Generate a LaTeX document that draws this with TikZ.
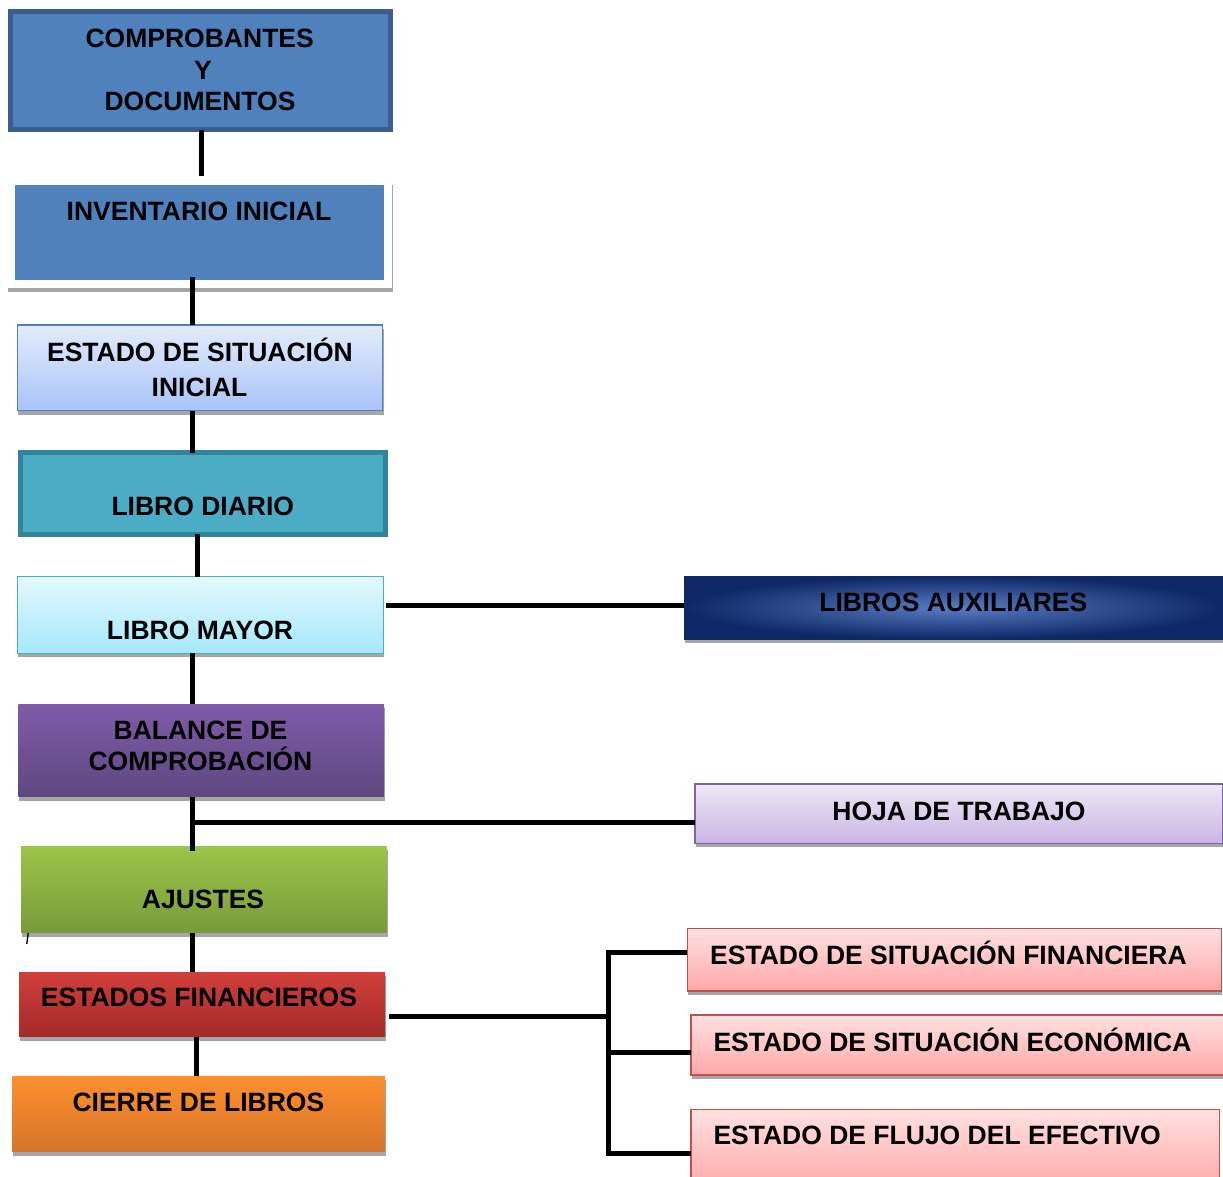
\documentclass[tikz,border=0pt]{standalone}
\usepackage{fontspec}
\setmainfont{Liberation Sans}
\definecolor{cblue}{HTML}{4F81BD}
\definecolor{cblueb}{HTML}{3B5E8F}
\definecolor{cesit}{HTML}{E3ECFD}
\definecolor{cesib}{HTML}{A9C4F9}
\definecolor{cteal}{HTML}{4BACC6}
\definecolor{ctealb}{HTML}{31849B}
\definecolor{cmayt}{HTML}{E3F8FE}
\definecolor{cmayb}{HTML}{A5E8FB}
\definecolor{cauxin}{HTML}{5A7CC4}
\definecolor{cauxout}{HTML}{0E2866}
\definecolor{cpurt}{HTML}{7F5BA8}
\definecolor{cpurb}{HTML}{5E4880}
\definecolor{chojt}{HTML}{EEE8F6}
\definecolor{chojb}{HTML}{C9B6E3}
\definecolor{chojd}{HTML}{8064A2}
\definecolor{cgrt}{HTML}{9CC54A}
\definecolor{cgrb}{HTML}{789B3A}
\definecolor{credt}{HTML}{D03F3B}
\definecolor{credb}{HTML}{A32A2A}
\definecolor{coret}{HTML}{FE8F2E}
\definecolor{coreb}{HTML}{D6752A}
\definecolor{cpkt}{HTML}{FFE1E1}
\definecolor{cpkb}{HTML}{FFA8A8}
\definecolor{cpkd}{HTML}{C0504D}
\definecolor{cshadow}{HTML}{A6A6A6}
\tikzset{
  box/.style={rectangle, inner sep=0pt, outer sep=0pt, anchor=north west},
  shad/.style={preaction={fill=cshadow, transform canvas={xshift=1pt,yshift=-4pt}}},
  txt/.style={font=\fontsize{26.5}{31}\selectfont\bfseries, inner sep=0pt, anchor=base},
  txtl/.style={txt, anchor=base west},
  conn/.style={draw=black, line width=5pt, line join=miter}
}
\begin{document}
\begin{tikzpicture}[x=1pt,y=-1pt]
\useasboundingbox (0,0) rectangle (1223,1177);
% ---- left column boxes
\node[box, fill=cblue, draw=cblueb, line width=5pt, minimum width=379.5pt, minimum height=118pt] (comp) at (10.5,12) {};
\node[box, fill=white, shad, minimum width=385pt, minimum height=106.5pt] (invf) at (7,181.5) {};
\node[box, fill=cblue, minimum width=369.3pt, minimum height=95pt] (inv) at (15,185) {};
\node[box, shad, top color=cesit, bottom color=cesib, draw=cblue, line width=1.2pt, minimum width=365.4pt, minimum height=85.7pt] (esi) at (17.3,325) {};
\node[box, fill=cteal, draw=ctealb, line width=5pt, minimum width=364.4pt, minimum height=81.7pt] (diario) at (20.8,452.5) {};
\node[box, shad, top color=cmayt, bottom color=cmayb, draw=cteal, line width=1.2pt, minimum width=366pt, minimum height=76.6pt] (mayor) at (17.3,576.7) {};
\node[box, shad, top color=cpurt, bottom color=cpurb, minimum width=365.7pt, minimum height=92.7pt] (balance) at (18.3,704) {};
\node[box, shad, top color=cgrt, bottom color=cgrb, minimum width=365.7pt, minimum height=86.7pt] (ajustes) at (21,846) {};
\node[box, shad, top color=credt, bottom color=credb, minimum width=366pt, minimum height=64.7pt] (ef) at (19,972) {};
\node[box, shad, top color=coret, bottom color=coreb, minimum width=373pt, minimum height=75.7pt] (cierre) at (12,1076) {};
% ---- right column boxes
\node[box, shad, inner color=cauxin, outer color=cauxout, minimum width=540pt, minimum height=63pt] (aux) at (684,576) {};
\node[box, shad, top color=chojt, bottom color=chojb, draw=chojd, line width=1.2pt, minimum width=527.3pt, minimum height=59.3pt] (hoja) at (695,784) {};
\node[box, shad, top color=cpkt, bottom color=cpkb, draw=cpkd, line width=1.2pt, minimum width=534pt, minimum height=62.7pt] (esf) at (687.3,928.3) {};
\node[box, shad, top color=cpkt, bottom color=cpkb, draw=cpkd, line width=1.2pt, minimum width=534pt, minimum height=60pt] (ese) at (691,1015) {};
\node[box, top color=cpkt, bottom color=cpkb, draw=cpkd, line width=1.2pt, minimum width=528.7pt, minimum height=80pt] (efe) at (691,1109.3) {};
% ---- texts
\node[txt] (tcomp1) at (199.7,47.3) {COMPROBANTES};
\node[txt] (tcomp2) at (203,79.5) {Y};
\node[txt] (tcomp3) at (200,110.7) {DOCUMENTOS};
\node[txt] (tinv) at (199,220) {INVENTARIO INICIAL};
\node[txt] (tesi1) at (200,361) {ESTADO DE SITUACIÓN};
\node[txt] (tesi2) at (199.5,396.7) {INICIAL};
\node[txt] (tdiario) at (202.8,515) {LIBRO DIARIO};
\node[txt] (tmayor) at (200,639.3) {LIBRO MAYOR};
\node[txt] (tbal1) at (200.5,739.3) {BALANCE DE};
\node[txt] (tbal2) at (200.5,770.7) {COMPROBACIÓN};
\node[txt] (tajus) at (203,908.3) {AJUSTES};
\node[txt] (tef) at (199,1006.7) {ESTADOS FINANCIEROS};
\node[txt] (tcierre) at (198.4,1111) {CIERRE DE LIBROS};
\node[txt] (taux) at (953.3,611) {LIBROS AUXILIARES};
\node[txt] (thoja) at (959,820) {HOJA DE TRABAJO};
\node[txtl] (tesf) at (710,964) {ESTADO DE SITUACIÓN FINANCIERA};
\node[txtl] (tese) at (713.3,1051) {ESTADO DE SITUACIÓN ECONÓMICA};
\node[txtl] (tefe) at (713.3,1144.3) {ESTADO DE FLUJO DEL EFECTIVO};
% ---- helper coordinates for connectors
\coordinate (xa) at (201.5,0);
\coordinate (xb) at (192.5,0);
\coordinate (xc) at (197,0);
\coordinate (xd) at (196,0);
\coordinate (ya) at (0,605.3);
\coordinate (jb) at (192.5,822);
\coordinate (ye) at (0,1016.3);
\coordinate (b1) at (608.8,952);
\coordinate (b2) at (608.8,1052.5);
\coordinate (b3) at (608.8,1153);
% ---- vertical chain
\draw[conn] (xa |- comp.south) -- ([yshift=5pt]xa |- invf.north);
\draw[conn] ([yshift=3pt]xb |- inv.south) -- (xb |- esi.north);
\draw[conn] (xb |- esi.south) -- (xb |- diario.north);
\draw[conn] (xc |- diario.south) -- (xc |- mayor.north);
\draw[conn] (xb |- mayor.south) -- (xb |- balance.north);
\draw[conn] (xb |- balance.south) -- ([yshift=-5pt]xb |- ajustes.north);
\draw[conn] (xb |- ajustes.south) -- (xb |- ef.north);
\draw[conn] (xd |- ef.south) -- (xd |- cierre.north);
% ---- side connectors
\draw[conn] ([xshift=3pt]mayor.east |- ya) -- (aux.west |- ya);
\draw[conn] (jb) -- (hoja.west |- jb);
\draw[conn] ([xshift=4pt]ef.east |- ye) -- (b1 |- ye);
\draw[conn] (esf.west |- b1) -- (b1) -- (b3) -- (efe.west |- b3);
\draw[conn] (b2) -- (ese.west |- b2);
% stray mark
\draw[line width=1.3pt] (28.2,933) -- (26.8,944);
\end{tikzpicture}
\end{document}
